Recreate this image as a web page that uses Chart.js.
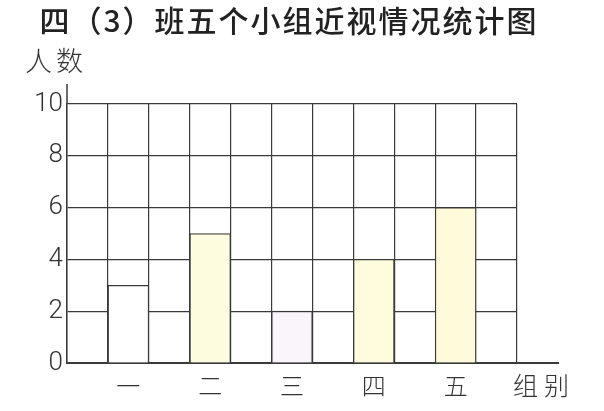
<!DOCTYPE html>
<html>
<head>
<meta charset="utf-8">
<script src="https://cdn.jsdelivr.net/npm/chart.js@4.4.1/dist/chart.umd.min.js"></script>
<style>
  body { margin: 0; background: #fff; }
  #wrap { width: 604px; height: 411px; }
</style>
</head>
<body>
<div id="wrap"><canvas id="myopiaChart" width="604" height="411"></canvas></div>
<script>
// 数据
const groups = ['一', '二', '三', '四', '五'];
const counts = [3, 5, 2, 4, 6];
const barColors = ['#ffffff', '#fefcdf', '#f9f5fa', '#fefcdc', '#fdfbd9'];
const yTicks = [0, 2, 4, 6, 8, 10];

const titleText = '四（3）班五个小组近视情况统计图';
const yTitle = '人数';
const xTitle = '组别';

// 每组之间空一格，共11格
const slotLabels = [];
const slotValues = [];
const slotColors = [];
for (let i = 0; i < groups.length; i++) {
    slotLabels.push('', groups[i]);
    slotValues.push(null, counts[i]);
    slotColors.push('#ffffff', barColors[i]);
}
slotLabels.push('');
slotValues.push(null);
slotColors.push('#ffffff');

const lineColor = '#3a3a3a';

// 标题、轴名和轴线延长
const decorPlugin = {
    id: 'decor',
    afterDraw(chart) {
        const ctx = chart.ctx;
        const area = chart.chartArea;
        ctx.save();
        ctx.strokeStyle = lineColor;
        ctx.lineWidth = 1.5;
        ctx.beginPath();
        ctx.moveTo(area.left, area.top);
        ctx.lineTo(area.left, area.top - 20);
        ctx.stroke();
        ctx.lineWidth = 2;
        ctx.beginPath();
        ctx.moveTo(area.right, area.bottom);
        ctx.lineTo(area.right + 42, area.bottom);
        ctx.stroke();

        ctx.fillStyle = '#222';
        ctx.textAlign = 'center';
        ctx.textBaseline = 'middle';
        ctx.font = '500 30px "Noto Sans CJK SC"';
        ctx.letterSpacing = '2px';
        ctx.fillText(titleText, 289, 21);

        ctx.fillStyle = '#333';
        ctx.font = '300 27px "Noto Sans CJK SC"';
        ctx.letterSpacing = '4px';
        ctx.textAlign = 'left';
        ctx.fillText(yTitle, 25, 61);

        ctx.font = '300 25px "Noto Sans CJK SC"';
        ctx.letterSpacing = '6px';
        ctx.fillText(xTitle, 513, 385);
        ctx.restore();
    }
};

const config = {
    type: 'bar',
    data: {
        labels: slotLabels,
        datasets: [{
            data: slotValues,
            backgroundColor: slotColors,
            borderColor: lineColor,
            borderWidth: 1.3,
            borderSkipped: 'bottom',
            barPercentage: 1,
            categoryPercentage: 1
        }]
    },
    options: {
        responsive: false,
        animation: false,
        layout: { padding: { top: 104, right: 87, bottom: 0, left: 0 } },
        plugins: {
            legend: { display: false },
            tooltip: { enabled: false }
        },
        scales: {
            x: {
                offset: true,
                grid: { offset: true, color: lineColor, lineWidth: 1.2, drawTicks: false },
                border: { color: lineColor, width: 2 },
                ticks: {
                    color: '#333',
                    padding: 8,
                    maxRotation: 0,
                    autoSkip: false,
                    font: { family: '"Noto Sans CJK SC"', size: 24, weight: '300' }
                },
                afterFit(scale) { scale.height = 48; }
            },
            y: {
                min: 0,
                max: 10,
                grid: { color: lineColor, lineWidth: 1.2, drawTicks: false },
                border: { color: lineColor, width: 1.5 },
                ticks: {
                    stepSize: 1,
                    padding: 4,
                    color: '#333',
                    font: { family: 'Roboto', size: 26, weight: '300' },
                    callback: function(value) {
                        return yTicks.includes(value) ? value : '';
                    }
                },
                afterFit(scale) { scale.width = 67; }
            }
        }
    },
    plugins: [decorPlugin]
};

const myChart = new Chart(document.getElementById('myopiaChart'), config);
</script>
</body>
</html>
